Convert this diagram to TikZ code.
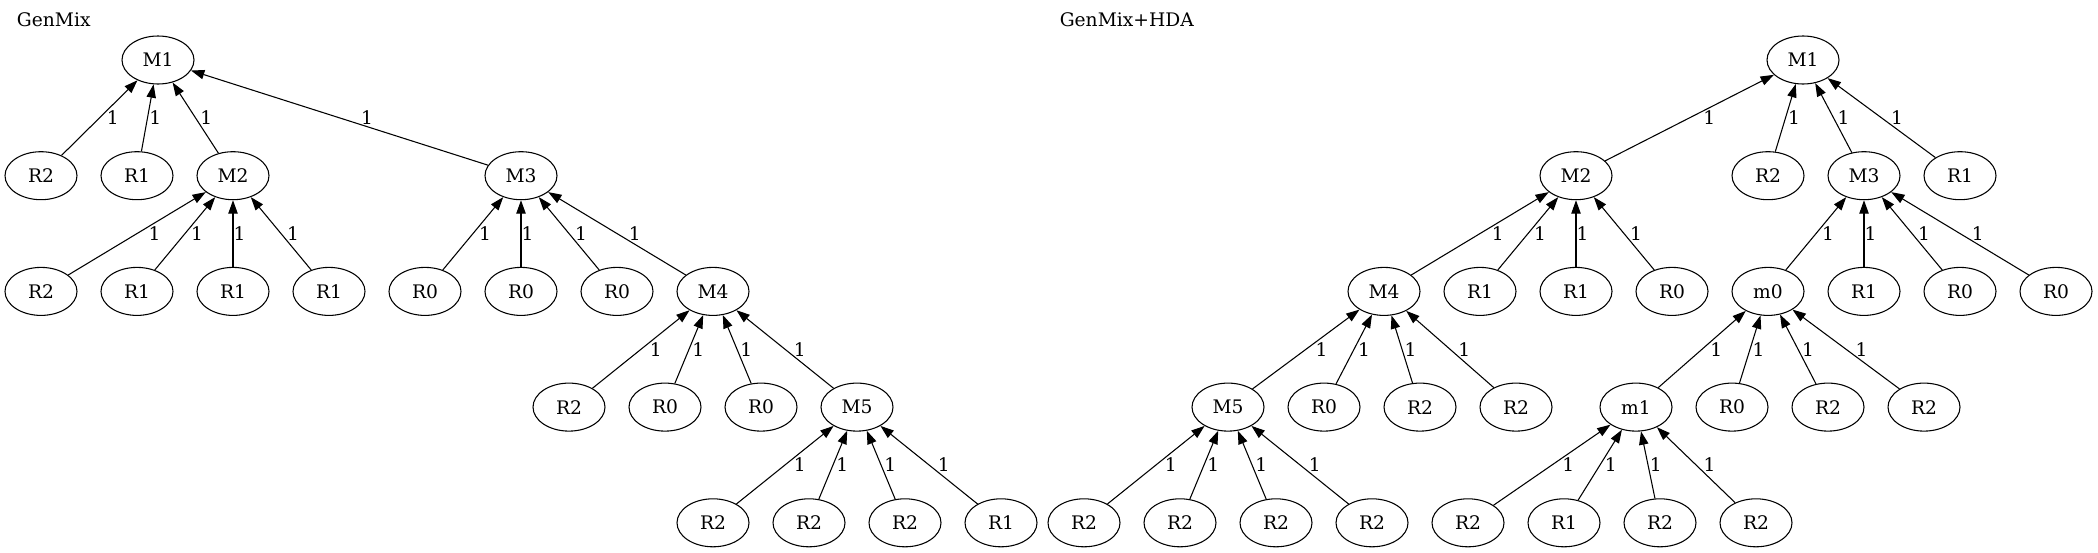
\documentclass[tikz,border=0pt]{standalone}
\usepackage{fontspec}
\setmainfont{DejaVu Serif}
\usetikzlibrary{shapes.geometric,arrows.meta}
\tikzset{
  tn/.style={draw, ellipse, line width=0.8pt, minimum width=54pt, minimum height=36pt, inner sep=0pt, font=\fontsize{14}{16}\selectfont},
  conn/.style={draw, line width=0.8pt, -{Triangle[length=10pt,width=7pt]}},
  lbl/.style={font=\fontsize{14}{16}\selectfont, inner sep=0pt},
  ttl/.style={font=\fontsize{14}{16}\selectfont, inner sep=0pt, anchor=base west}
}
\newcommand\edg[3]{\draw[conn] (#1) -- (#2) node[lbl, pos=0.5, xshift={0.75*(6.5+6.7*#3/115)*1pt}] {1};}
\begin{document}
\begin{tikzpicture}[x=0.75pt,y=-0.75pt]
\useasboundingbox (0,0) rectangle (2098,553);
% titles
\node[ttl] (t1) at (16.7,26.5) {GenMix};
\node[ttl] (t2) at (1059.5,26.5) {GenMix+HDA};
% ---------- left tree ----------
\node[tn] (aM1) at (158,60) {M1};
\node[tn] (aR2) at (41,175.7) {R2};
\node[tn] (aR1) at (137,175.7) {R1};
\node[tn] (aM2) at (233,175.7) {M2};
\node[tn] (aM3) at (521,175.7) {M3};
\node[tn] (a3a) at (41,291.4) {R2};
\node[tn] (a3b) at (137,291.4) {R1};
\node[tn] (a3c) at (233,291.4) {R1};
\node[tn] (a3d) at (329,291.4) {R1};
\node[tn] (a3e) at (425,291.4) {R0};
\node[tn] (a3f) at (521,291.4) {R0};
\node[tn] (a3g) at (617,291.4) {R0};
\node[tn] (aM4) at (713,291.4) {M4};
\node[tn] (a4a) at (569,407.1) {R2};
\node[tn] (a4b) at (665,407.1) {R0};
\node[tn] (a4c) at (761,407.1) {R0};
\node[tn] (aM5) at (857,407.1) {M5};
\node[tn] (a5a) at (713,522.8) {R2};
\node[tn] (a5b) at (809,522.8) {R2};
\node[tn] (a5c) at (905,522.8) {R2};
\node[tn] (a5d) at (1001,522.8) {R1};
\edg{aR2}{aM1}{117}
\edg{aR1}{aM1}{21}
\edg{aM2}{aM1}{75}
\edg{aM3}{aM1}{363}
\edg{a3a}{aM2}{192}
\edg{a3b}{aM2}{96}
\edg{a3c}{aM2}{0}
\edg{a3d}{aM2}{96}
\edg{a3e}{aM3}{96}
\edg{a3f}{aM3}{0}
\edg{a3g}{aM3}{96}
\edg{aM4}{aM3}{192}
\edg{a4a}{aM4}{144}
\edg{a4b}{aM4}{48}
\edg{a4c}{aM4}{48}
\edg{aM5}{aM4}{144}
\edg{a5a}{aM5}{144}
\edg{a5b}{aM5}{48}
\edg{a5c}{aM5}{48}
\edg{a5d}{aM5}{144}
% ---------- right tree ----------
\node[tn] (bM1) at (1803,60) {M1};
\node[tn] (bM2) at (1576,175.7) {M2};
\node[tn] (b2a) at (1768,175.7) {R2};
\node[tn] (bM3) at (1864,175.7) {M3};
\node[tn] (b2b) at (1960,175.7) {R1};
\node[tn] (bM4) at (1384,291.4) {M4};
\node[tn] (b3a) at (1480,291.4) {R1};
\node[tn] (b3b) at (1576,291.4) {R1};
\node[tn] (b3c) at (1672,291.4) {R0};
\node[tn] (bm0) at (1768,291.4) {m0};
\node[tn] (b3d) at (1864,291.4) {R1};
\node[tn] (b3e) at (1960,291.4) {R0};
\node[tn] (b3f) at (2056,291.4) {R0};
\node[tn] (bM5) at (1228,407.1) {M5};
\node[tn] (b4a) at (1324,407.1) {R0};
\node[tn] (b4b) at (1420,407.1) {R2};
\node[tn] (b4c) at (1516,407.1) {R2};
\node[tn] (bm1) at (1636,407.1) {m1};
\node[tn] (b4d) at (1732,407.1) {R0};
\node[tn] (b4e) at (1828,407.1) {R2};
\node[tn] (b4f) at (1924,407.1) {R2};
\node[tn] (b5a) at (1084,522.8) {R2};
\node[tn] (b5b) at (1180,522.8) {R2};
\node[tn] (b5c) at (1276,522.8) {R2};
\node[tn] (b5d) at (1372,522.8) {R2};
\node[tn] (b5e) at (1468,522.8) {R2};
\node[tn] (b5f) at (1564,522.8) {R1};
\node[tn] (b5g) at (1660,522.8) {R2};
\node[tn] (b5h) at (1756,522.8) {R2};
\edg{bM2}{bM1}{227}
\edg{b2a}{bM1}{35}
\edg{bM3}{bM1}{61}
\edg{b2b}{bM1}{157}
\edg{bM4}{bM2}{192}
\edg{b3a}{bM2}{96}
\edg{b3b}{bM2}{0}
\edg{b3c}{bM2}{96}
\edg{bm0}{bM3}{96}
\edg{b3d}{bM3}{0}
\edg{b3e}{bM3}{96}
\edg{b3f}{bM3}{192}
\edg{bM5}{bM4}{156}
\edg{b4a}{bM4}{60}
\edg{b4b}{bM4}{36}
\edg{b4c}{bM4}{132}
\edg{bm1}{bm0}{132}
\edg{b4d}{bm0}{36}
\edg{b4e}{bm0}{60}
\edg{b4f}{bm0}{156}
\edg{b5a}{bM5}{144}
\edg{b5b}{bM5}{48}
\edg{b5c}{bM5}{48}
\edg{b5d}{bM5}{144}
\edg{b5e}{bm1}{168}
\edg{b5f}{bm1}{72}
\edg{b5g}{bm1}{24}
\edg{b5h}{bm1}{120}
\end{tikzpicture}
\end{document}
